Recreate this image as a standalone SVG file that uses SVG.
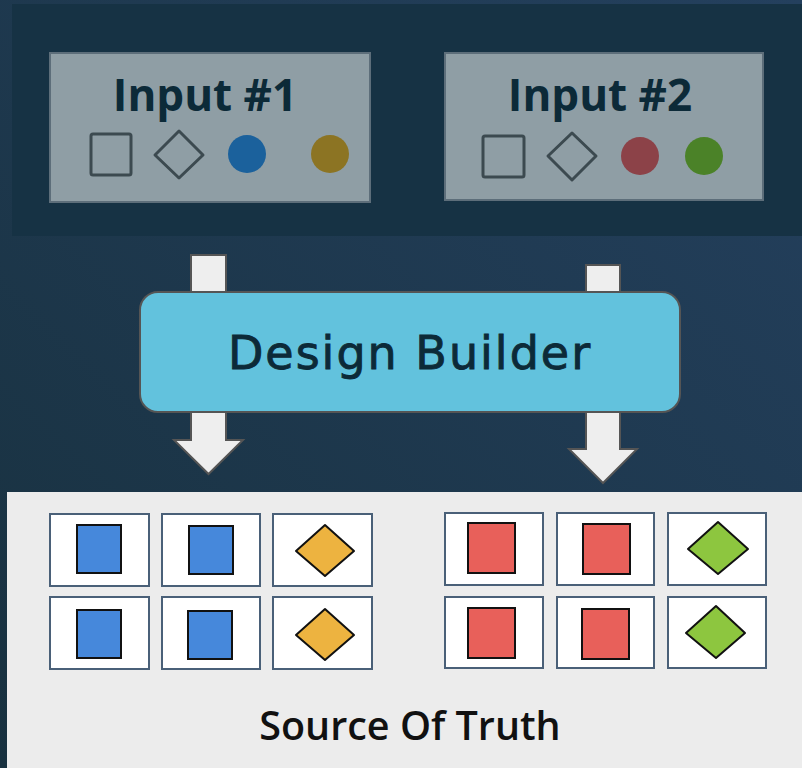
<svg xmlns="http://www.w3.org/2000/svg" width="802" height="768" viewBox="0 0 802 768">
<defs>
<linearGradient id="bg" x1="0" y1="1" x2="1" y2="0">
<stop offset="0" stop-color="#18313f"/>
<stop offset="1" stop-color="#24405e"/>
</linearGradient>
<style>
.inbox{fill:#8f9ea5;stroke:#5d6e7a;stroke-width:2}
.intext{font-family:"Open Sans","Liberation Sans",sans-serif;font-weight:700;font-size:44px;fill:#0c2a38;text-anchor:middle}
.sym{fill:none;stroke:#3c4a50;stroke-width:3;stroke-linejoin:round}
.arrow{fill:#eeeeee;stroke:#555;stroke-width:2;stroke-linejoin:miter}
.tile{fill:#fff;stroke:#4a6078;stroke-width:2}
.blue{fill:#4688db;stroke:#111;stroke-width:2}
.red{fill:#e8605a;stroke:#111;stroke-width:2}
.gold{fill:#edb340;stroke:#111;stroke-width:2;stroke-linejoin:round}
.green{fill:#8dc63f;stroke:#111;stroke-width:2;stroke-linejoin:round}
</style>
</defs>
<rect x="0" y="0" width="802" height="768" fill="url(#bg)"/>
<rect x="12" y="4" width="790" height="232" fill="#163244"/>

<g id="input1">
<rect class="inbox" x="50" y="53" width="320" height="149"/>
<text class="intext" x="205" y="111">Input #1</text>
<rect class="sym" x="91" y="134" width="40" height="41" rx="2"/>
<polygon class="sym" points="179,131 203,155 179,178 155,155"/>
<circle cx="247" cy="154" r="19" fill="#1b619c"/>
<circle cx="330" cy="154" r="19" fill="#8c7423"/>
</g>

<g id="input2">
<rect class="inbox" x="445" y="53" width="318" height="147"/>
<text class="intext" x="600" y="111">Input #2</text>
<rect class="sym" x="483" y="136" width="41" height="41" rx="2"/>
<polygon class="sym" points="572,133 596,156 572,180 548,156"/>
<circle cx="640" cy="156" r="19" fill="#8c4248"/>
<circle cx="704" cy="156" r="19" fill="#4b8228"/>
</g>

<g id="connectors">
<rect class="arrow" x="191" y="255" width="35" height="40"/>
<rect class="arrow" x="586" y="265" width="34" height="30"/>
<polygon class="arrow" points="191,410 226,410 226,440 243,440 208.5,474 174,440 191,440"/>
<polygon class="arrow" points="586,410 620,410 620,449 637,449 603,483 569,449 586,449"/>
</g>

<g id="design-builder">
<rect x="140" y="292" width="540" height="120" rx="18" fill="#62c2dd" stroke="#555" stroke-width="2"/>
<text x="410" y="369" font-family="'DejaVu Sans','Open Sans',sans-serif" font-size="46" letter-spacing="2" fill="#0c2a38" stroke="#0c2a38" stroke-width="0.9" text-anchor="middle">Design Builder</text>
</g>

<g id="source-of-truth">
<rect x="7" y="492" width="795" height="276" fill="#ececec"/>
<g id="tiles-left">
<rect class="tile" x="50" y="514" width="99" height="72"/>
<rect class="tile" x="162" y="514" width="98" height="72"/>
<rect class="tile" x="273" y="514" width="99" height="72"/>
<rect class="tile" x="50" y="597" width="99" height="72"/>
<rect class="tile" x="162" y="597" width="98" height="72"/>
<rect class="tile" x="273" y="597" width="99" height="72"/>
<rect class="blue" x="77" y="525" width="44" height="48"/>
<rect class="blue" x="189" y="526" width="44" height="48"/>
<polygon class="gold" points="325,525 354,551 325,576 296,551"/>
<rect class="blue" x="77" y="610" width="44" height="48"/>
<rect class="blue" x="188" y="611" width="44" height="48"/>
<polygon class="gold" points="325,609 354,635 325,660 296,635"/>
</g>
<g id="tiles-right">
<rect class="tile" x="445" y="513" width="98" height="72"/>
<rect class="tile" x="557" y="513" width="97" height="72"/>
<rect class="tile" x="668" y="513" width="98" height="72"/>
<rect class="tile" x="445" y="597" width="98" height="71"/>
<rect class="tile" x="557" y="597" width="97" height="71"/>
<rect class="tile" x="668" y="597" width="98" height="71"/>
<rect class="red" x="468" y="523" width="47" height="50"/>
<rect class="red" x="583" y="524" width="47" height="50"/>
<polygon class="green" points="718,522 748,549 718,574 688,549"/>
<rect class="red" x="468" y="608" width="47" height="50"/>
<rect class="red" x="582" y="609" width="47" height="50"/>
<polygon class="green" points="716,606 745,633 716,658 686,633"/>
</g>
<text x="410" y="740" font-family="'Open Sans','Liberation Sans',sans-serif" font-weight="600" font-size="39.5" fill="#111" text-anchor="middle">Source Of Truth</text>
</g>
</svg>
